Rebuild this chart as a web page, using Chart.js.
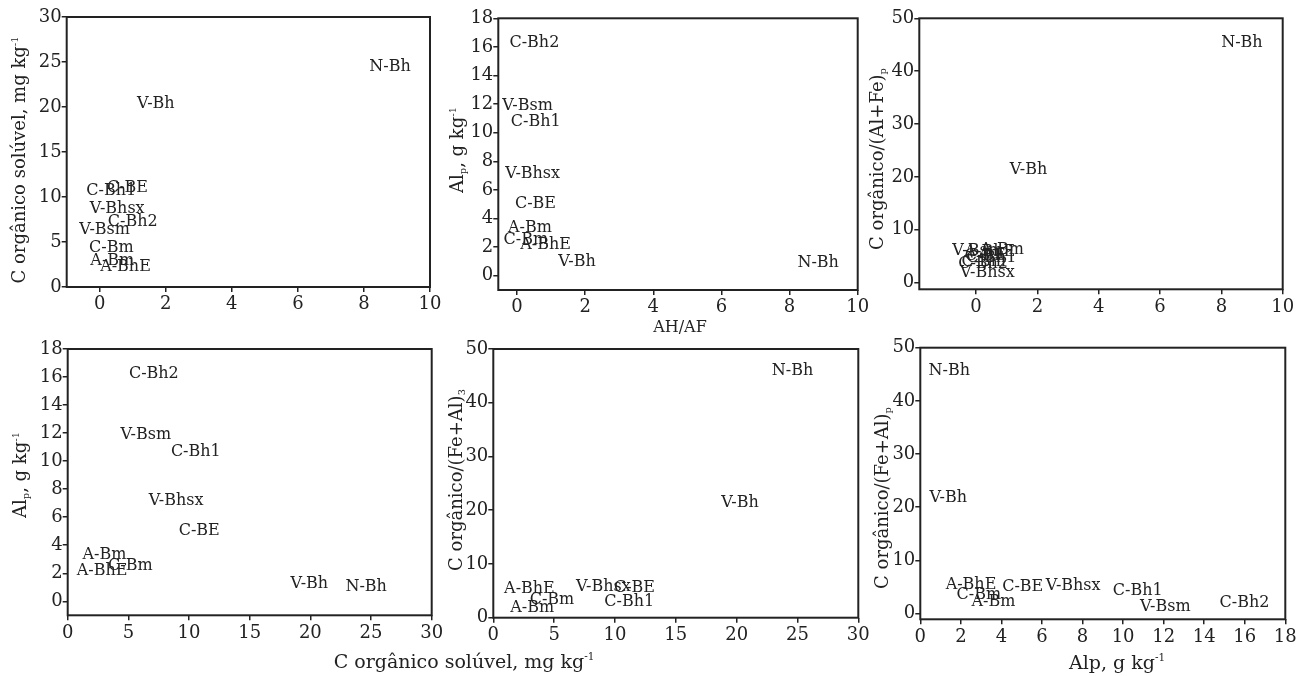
<!DOCTYPE html>
<html>
<head>
<meta charset="utf-8">
<script src="https://cdn.jsdelivr.net/npm/chart.js@4.4.1/dist/chart.umd.min.js"></script>
<style>
  body { margin: 0; background: #fff; width: 1306px; height: 676px; position: relative; overflow: hidden; }
  canvas { position: absolute; }
  .t { position: absolute; font-family: 'DejaVu Serif', serif; color: #222; white-space: nowrap; line-height: 1; }
  .v { transform: translate(-50%, -50%) rotate(-90deg); }
  .h { transform: translate(-50%, -50%); }
  sup, sub { font-size: 55%; }
  sup { vertical-align: 0.7em; }
  sub { vertical-align: -0.3em; }
</style>
</head>
<body>
<canvas id="c1" width="450" height="320" style="left:0;top:0"></canvas>
<canvas id="c2" width="440" height="320" style="left:440px;top:0"></canvas>
<canvas id="c3" width="436" height="320" style="left:870px;top:0"></canvas>
<canvas id="c4" width="450" height="356" style="left:0;top:320px"></canvas>
<canvas id="c5" width="440" height="356" style="left:440px;top:320px"></canvas>
<canvas id="c6" width="436" height="356" style="left:870px;top:320px"></canvas>

<div class="t v" style="left:19px;top:160px;font-size:18px">C orgânico solúvel, mg kg<sup>-1</sup></div>
<div class="t v" style="left:458px;top:150px;font-size:18px">Al<sub>p</sub>, g kg<sup>-1</sup></div>
<div class="t v" style="left:878px;top:159px;font-size:18px">C orgânico/(Al+Fe)<sub>p</sub></div>
<div class="t v" style="left:21px;top:475px;font-size:18px">Al<sub>p</sub>, g kg<sup>-1</sup></div>
<div class="t v" style="left:457px;top:480px;font-size:18px">C orgânico/(Fe+Al)<sub>3</sub></div>
<div class="t v" style="left:883px;top:498px;font-size:18px">C orgânico/(Fe+Al)<sub>p</sub></div>
<div class="t h" style="left:680px;top:327px;font-size:16px">AH/AF</div>
<div class="t h" style="left:464px;top:661px;font-size:19px">C orgânico solúvel, mg kg<sup>-1</sup></div>
<div class="t h" style="left:1117px;top:662px;font-size:19px">Alp, g kg<sup>-1</sup></div>

<script>
// panel 1: AH/AF vs C orgânico solúvel
const labels1 = ['N-Bh', 'V-Bh', 'C-BE', 'C-Bh1', 'V-Bhsx', 'C-Bh2', 'V-Bsm', 'C-Bm', 'A-Bm', 'A-BhE'];
const ahaf1 = [8.79, 1.70, 0.84, 0.35, 0.53, 1.00, 0.15, 0.35, 0.38, 0.78];
const csol1 = [24.5, 20.3, 11.0, 10.65, 8.66, 7.25, 6.33, 4.3, 2.9, 2.25];
const xTicks1 = [0, 2, 4, 6, 8, 10];
const yTicks1 = [0, 5, 10, 15, 20, 25, 30];

// panel 2: AH/AF vs Alp
const labels2 = ['C-Bh2', 'V-Bsm', 'C-Bh1', 'V-Bhsx', 'C-BE', 'A-Bm', 'C-Bm', 'A-BhE', 'V-Bh', 'N-Bh'];
const ahaf2 = [0.51, 0.31, 0.55, 0.46, 0.54, 0.38, 0.26, 0.84, 1.76, 8.84];
const alp2 = [16.25, 11.87, 10.75, 7.13, 5.03, 3.32, 2.52, 2.17, 1.0, 0.93];
const xTicks2 = [0, 2, 4, 6, 8, 10];
const yTicks2 = [0, 2, 4, 6, 8, 10, 12, 14, 16, 18];

// panel 3: AH/AF vs C orgânico/(Al+Fe)p
const labels3 = ['N-Bh', 'V-Bh', 'V-Bsm', 'A-Bm', 'A-BhE', 'C-BE', 'C-Bh1', 'C-Bm', 'C-Bh2', 'V-Bhsx'];
const ahaf3 = [8.67, 1.71, 0.05, 0.85, 0.45, 0.30, 0.50, 0.25, 0.23, 0.37];
const cAlFe3 = [45.3, 21.3, 6.0, 6.3, 5.8, 5.0, 4.7, 3.9, 3.6, 1.8];
const xTicks3 = [0, 2, 4, 6, 8, 10];
const yTicks3 = [0, 10, 20, 30, 40, 50];

// panel 4: C orgânico solúvel vs Alp
const labels4 = ['C-Bh2', 'V-Bsm', 'C-Bh1', 'V-Bhsx', 'C-BE', 'A-Bm', 'C-Bm', 'A-BhE', 'V-Bh', 'N-Bh'];
const csol4 = [7.1, 6.44, 10.56, 8.94, 10.84, 3.03, 5.16, 2.84, 19.92, 24.6];
const alp4 = [16.2, 11.87, 10.68, 7.17, 5.04, 3.33, 2.5, 2.14, 1.24, 1.0];
const xTicks4 = [0, 5, 10, 15, 20, 25, 30];
const yTicks4 = [0, 2, 4, 6, 8, 10, 12, 14, 16, 18];

// panel 5: C orgânico solúvel vs C orgânico/(Fe+Al)3
const labels5 = ['N-Bh', 'V-Bh', 'A-BhE', 'C-Bm', 'A-Bm', 'V-Bhsx', 'C-BE', 'C-Bh1'];
const csol5 = [24.6, 20.27, 2.97, 4.82, 3.2, 9.04, 11.6, 11.17];
const cFeAl5 = [45.96, 21.3, 5.28, 3.3, 1.75, 5.77, 5.6, 2.98];
const xTicks5 = [0, 5, 10, 15, 20, 25, 30];
const yTicks5 = [0, 10, 20, 30, 40, 50];

// panel 6: Alp vs C orgânico/(Fe+Al)p
const labels6 = ['N-Bh', 'V-Bh', 'A-BhE', 'C-Bm', 'A-Bm', 'C-BE', 'V-Bhsx', 'C-Bh1', 'V-Bsm', 'C-Bh2'];
const alp6 = [1.43, 1.38, 2.5, 2.89, 3.61, 5.05, 7.54, 10.72, 12.08, 15.99];
const cFeAl6 = [45.7, 21.8, 5.33, 3.58, 2.19, 5.0, 5.14, 4.26, 1.24, 2.0];
const xTicks6 = [0, 2, 4, 6, 8, 10, 12, 14, 16, 18];
const yTicks6 = [0, 10, 20, 30, 40, 50];

const ink = '#222';
const serif = "'DejaVu Serif', serif";

// writes each horizon name at its point and draws the box round the plot
const textPoints = {
  id: 'textPoints',
  afterDatasetsDraw(chart) {
    const ctx = chart.ctx;
    const a = chart.chartArea;
    ctx.save();
    ctx.strokeStyle = ink;
    ctx.lineWidth = 2;
    ctx.strokeRect(a.left, a.top, a.right - a.left, a.bottom - a.top);
    ctx.fillStyle = ink;
    ctx.font = '16px ' + serif;
    ctx.textAlign = 'center';
    ctx.textBaseline = 'middle';
    const names = chart.data.datasets[0].names;
    chart.getDatasetMeta(0).data.forEach((pt, i) => {
      ctx.fillText(names[i], pt.x, pt.y);
    });
    ctx.restore();
  }
};

function panel(id, names, xs, ys, xr, yr, xt, yt, box) {
  new Chart(document.getElementById(id), {
    type: 'scatter',
    data: {
      datasets: [{
        names: names,
        data: xs.map((x, i) => ({ x: x, y: ys[i] })),
        pointRadius: 0,
        pointHoverRadius: 0
      }]
    },
    options: {
      responsive: false,
      animation: false,
      events: [],
      layout: { padding: { top: box.top, right: box.right, left: 0, bottom: 0 } },
      plugins: { legend: { display: false }, tooltip: { enabled: false } },
      scales: {
        x: {
          type: 'linear',
          min: xr[0], max: xr[1],
          afterBuildTicks: s => { s.ticks = xt.map(v => ({ value: v })); },
          afterFit: s => { s.height = box.xh; },
          border: { display: false },
          grid: { drawOnChartArea: false, tickLength: 5, color: ink, lineWidth: 1.5 },
          ticks: { autoSkip: false, maxRotation: 0, padding: 2, color: ink, font: { family: serif, size: 18 } }
        },
        y: {
          min: yr[0], max: yr[1],
          afterBuildTicks: s => { s.ticks = yt.map(v => ({ value: v })); },
          afterFit: s => { s.width = box.yw; },
          border: { display: false },
          grid: { drawOnChartArea: false, tickLength: 5, color: ink, lineWidth: 1.5 },
          ticks: { autoSkip: false, padding: 0, color: ink, font: { family: serif, size: 18 } }
        }
      }
    },
    plugins: [textPoints]
  });
}

panel('c1', labels1, ahaf1, csol1, [-1, 10], [0, 30], xTicks1, yTicks1, { top: 17, right: 20, yw: 66.7, xh: 33 });
panel('c2', labels2, ahaf2, alp2, [-0.55, 10], [-1, 18], xTicks2, yTicks2, { top: 18.3, right: 22.3, yw: 58.3, xh: 30 });
panel('c3', labels3, ahaf3, cAlFe3, [-1.85, 10], [-1.25, 50], xTicks3, yTicks3, { top: 18.3, right: 23.3, yw: 49.3, xh: 30.7 });
panel('c4', labels4, csol4, alp4, [0, 30], [-1, 18], xTicks4, yTicks4, { top: 29, right: 18.3, yw: 67.7, xh: 60.7 });
panel('c5', labels5, csol5, cFeAl5, [0, 30], [0, 50], xTicks5, yTicks5, { top: 29, right: 21.7, yw: 53.3, xh: 58.3 });
panel('c6', labels6, alp6, cFeAl6, [0, 18], [-1.1, 50], xTicks6, yTicks6, { top: 27.7, right: 20.7, yw: 50.3, xh: 56.7 });
</script>
</body>
</html>
